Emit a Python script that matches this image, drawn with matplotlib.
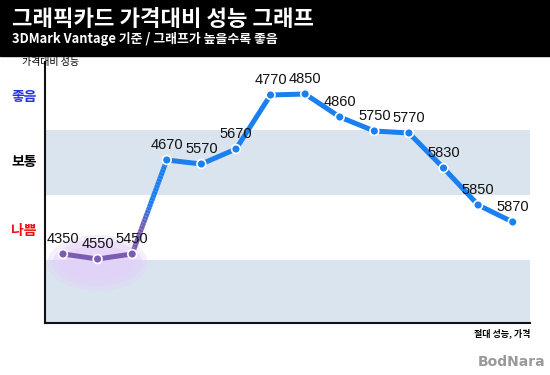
import numpy as np
import matplotlib
matplotlib.use("Agg")
import matplotlib.pyplot as plt
from matplotlib.patches import Rectangle, Ellipse

plt.rcParams['font.family'] = ['Noto Sans CJK KR', 'DejaVu Sans']

# Daten (Punktbeschriftung = Leistungswert, Y = Preis/Leistung relativ)
labels = [4350, 4550, 5450, 4670, 5570, 5670, 4770, 4850, 4860,
          5750, 5770, 5830, 5850, 5870]
ratio = [69, 64, 69, 163, 159, 174, 228, 229, 206, 192, 190, 155, 118, 101]

title = "그래픽카드 가격대비 성능 그래프"
subtitle = "3DMark Vantage 기준 / 그래프가 높을수록 좋음"
band_ranges = [(0, 63), (128, 193)]
levels = [("좋음", 226, "#2030e8"), ("보통", 161, "black"), ("나쁨", 92, "#ee1111")]

blue = "#1a80f0"
purple = "#7a5cb0"

W, H = 550, 375
fig = plt.figure(figsize=(W / 100, H / 100), dpi=100)

# Kopfzeile
fig.patches.append(Rectangle((0, 1 - 56 / H), 1, 56 / H, transform=fig.transFigure,
                             color="black", zorder=0))
fig.text(12 / W, 1 - 19 / H, title, color="white", fontsize=16,
         fontweight="bold", va="center", ha="left")
fig.text(12 / W, 1 - 39 / H, subtitle, color="white", fontsize=9.3,
         fontweight="bold", va="center", ha="left")

ax = fig.add_axes([45 / W, (H - 323) / H, 485 / W, 261 / H])
x = np.arange(len(labels))
ax.set_xlim(-0.52, 13.5)
ax.set_ylim(0, 261)

for lo, hi in band_ranges:
    ax.axhspan(lo, hi, color="#d9e4ef", zorder=0, lw=0)

# violetter Schein unter den schlechten Werten
for w, h, a in [(2.9, 56, 0.35), (2.6, 46, 0.45), (2.2, 34, 0.5)]:
    ax.add_patch(Ellipse((1.0, 60), w, h, color="#e4cffa", alpha=a, lw=0, zorder=1))

# Linie: erst violett, dann Verlauf zu blau
ax.plot(x[:3], ratio[:3], color=purple, lw=3.6, zorder=2, solid_capstyle="round")
ax.plot(x[3:], ratio[3:], color=blue, lw=3.6, zorder=2, solid_capstyle="round")
n = 30
t = np.linspace(0, 1, n + 1)
xs = x[2] + (x[3] - x[2]) * t
ys = ratio[2] + (ratio[3] - ratio[2]) * t
c1 = np.array(matplotlib.colors.to_rgb(purple))
c2 = np.array(matplotlib.colors.to_rgb(blue))
for i in range(n):
    f = np.clip((t[i] - 0.25) / 0.3, 0, 1)
    ax.plot(xs[i:i + 2], ys[i:i + 2], color=c1 * (1 - f) + c2 * f, lw=3.6,
            zorder=2, solid_capstyle="butt")

mc = [purple] * 3 + [blue] * (len(labels) - 3)
ax.scatter(x, ratio, s=40, c=mc, edgecolors="white", linewidths=1.2, zorder=3)

for xi, yi, lab in zip(x, ratio, labels):
    ax.annotate(str(lab), (xi, yi), xytext=(0, 11), textcoords="offset points",
                ha="center", va="center", fontsize=10.5, family="Liberation Sans",
                color="#111111", zorder=4)

for s in ["top", "right"]:
    ax.spines[s].set_visible(False)
for s in ["left", "bottom"]:
    ax.spines[s].set_linewidth(1.5)
    ax.spines[s].set_color("#111111")
ax.set_xticks([])
ax.set_yticks([])

for txt, yv, col in levels:
    ax.text(-0.52 - 21 / 34.6, yv, txt, color=col, fontsize=10, fontweight="bold",
            ha="center", va="center", clip_on=False)

fig.text(22 / W, 1 - 62 / H, "가격대비 성능", fontsize=7.2, va="center", ha="left")
fig.text(530 / W, 1 - 333 / H, "절대 성능, 가격", fontsize=6.5, fontweight="bold",
         va="center", ha="right")
fig.text(545 / W, 1 - 362 / H, "BodNara", fontsize=10, fontweight="bold",
         color="#9a9a9a", va="center", ha="right", family="DejaVu Sans")

fig.savefig("out.png", dpi=100)
